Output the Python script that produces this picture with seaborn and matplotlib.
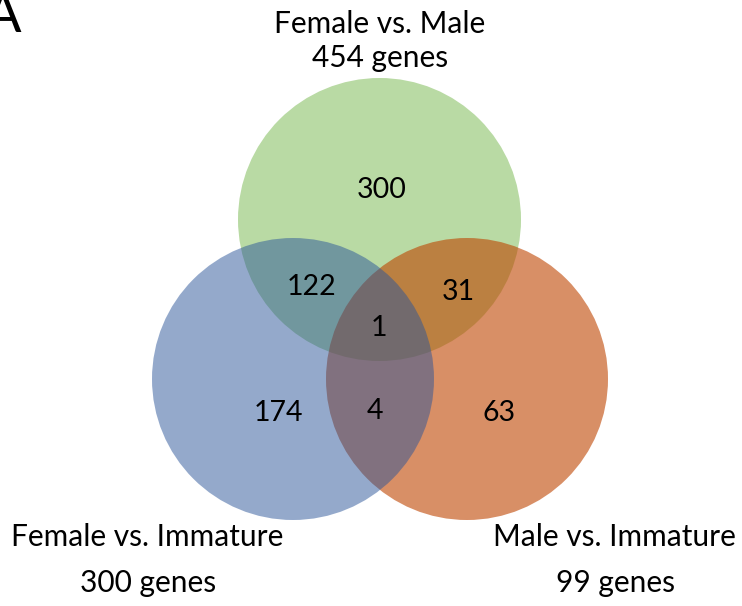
import matplotlib
matplotlib.use("Agg")
import matplotlib.pyplot as plt
from matplotlib.patches import Circle
import seaborn as sns

# Data
set_names = ["Female vs. Male", "Female vs. Immature", "Male vs. Immature"]
set_totals = [454, 300, 99]
region_labels = ["FM only", "FI only", "MI only", "FM&FI", "FM&MI", "FI&MI", "all"]
region_counts = [300, 174, 63, 122, 31, 4, 1]

sns.set_theme(style="white")
plt.rcParams['font.family'] = ['Lato', 'DejaVu Sans']

W, H = 742, 606
fig = plt.figure(figsize=(W / 100, H / 100), dpi=100)
ax = fig.add_axes([0, 0, 1, 1])
ax.set_xlim(0, W)
ax.set_ylim(H, 0)
ax.axis("off")

# circles: (cx, cy, r, rgb, alpha, zorder)
circles = [
    (379.5, 219.5, 141.5, (185/255, 218/255, 164/255), 1.0, 1),
    (467.0, 379.0, 141.0, (190/255, 68/255, 0/255), 0.6, 2),
    (293.0, 379.0, 141.0, (43/255, 85/255, 153/255), 0.5, 3),
]
for cx, cy, r, col, a, z in circles:
    ax.add_patch(Circle((cx, cy), r, facecolor=col, alpha=a, edgecolor="none", zorder=z))

region_pos = [(382, 190), (278, 413), (499, 413), (312, 287), (458, 292), (375, 411), (379, 328)]
for (x, y), c in zip(region_pos, region_counts):
    ax.text(x, y, str(c), ha="center", va="center", fontsize=20.5, color="black", zorder=5)

title_pos = [((380, 24), (380, 58)), ((147, 537), (148, 583)), ((614, 537), (616, 583))]
for (p1, p2), name, tot in zip(title_pos, set_names, set_totals):
    ax.text(p1[0], p1[1], name, ha="center", va="center", fontsize=21.5, color="black")
    ax.text(p2[0], p2[1], f"{tot} genes", ha="center", va="center", fontsize=21.5, color="black")

ax.text(-16, 16, "A", ha="left", va="center", fontsize=40, color="black")

fig.savefig("out.png", dpi=100)
